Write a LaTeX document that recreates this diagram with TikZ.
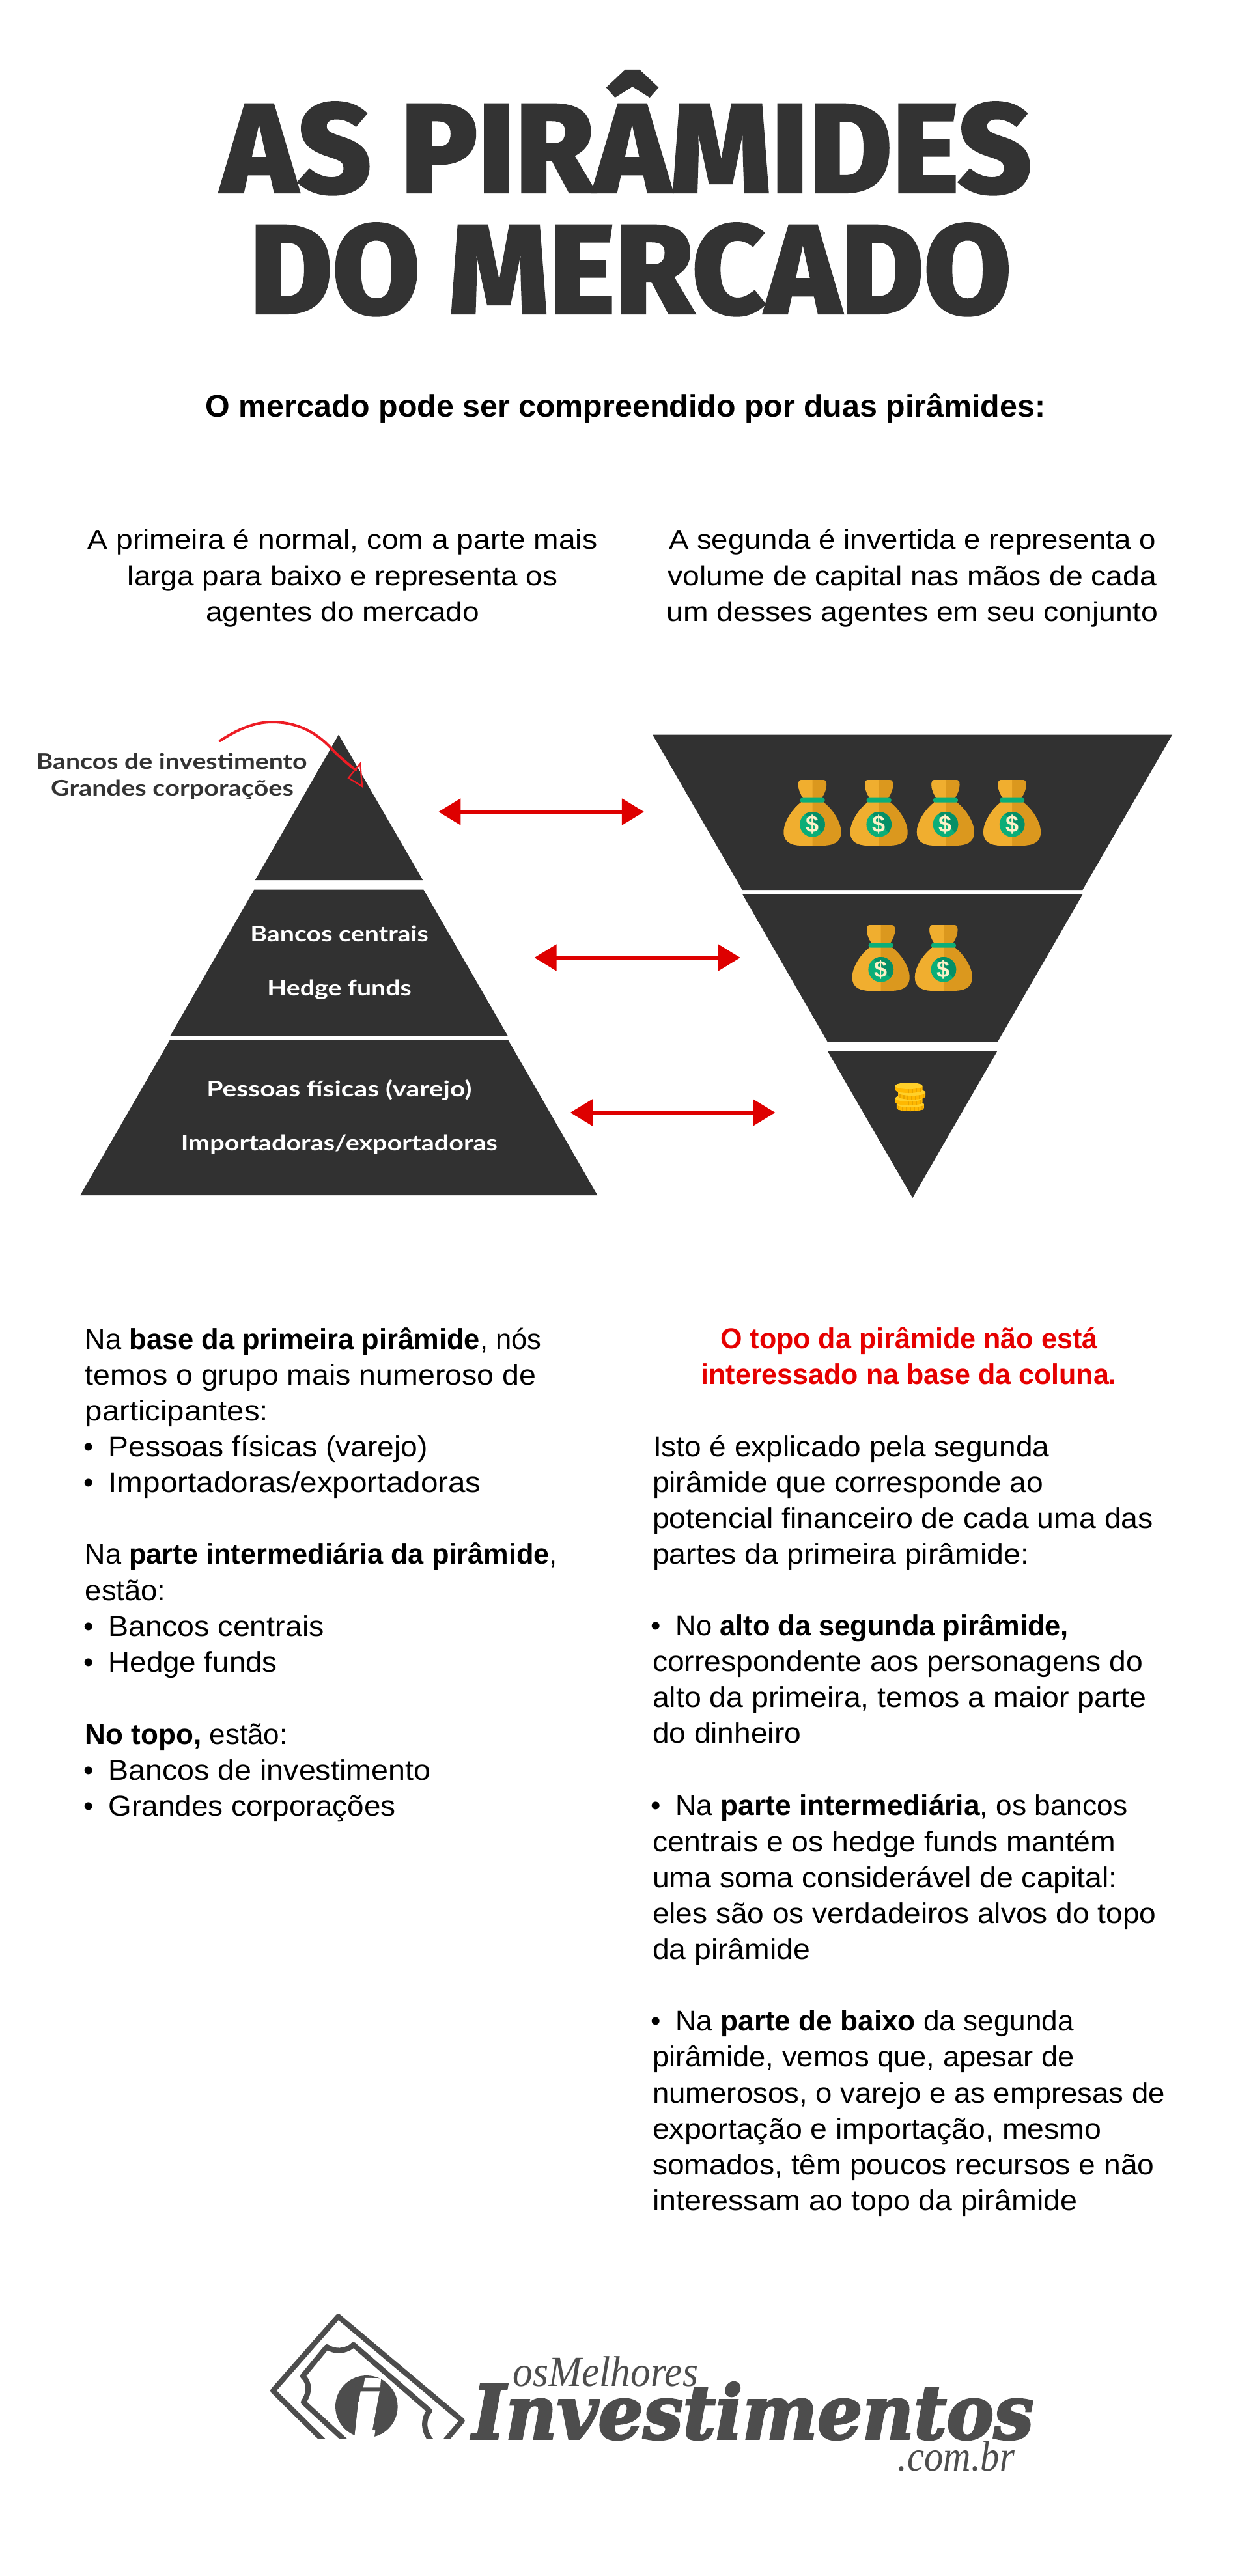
\documentclass[tikz,border=0pt]{standalone}
\usepackage{fontspec}
\usepackage{graphicx}
\usetikzlibrary{arrows.meta}
\setmainfont{Liberation Sans}
\newfontfamily\titlefont{Fira Sans ExtraBold}
\newfontfamily\lblfont{Lato}
\newfontfamily\logoA{DejaVu Serif}
\newfontfamily\logoB{Liberation Serif}
\definecolor{pyr}{HTML}{313131}
\definecolor{ink}{HTML}{333333}
\definecolor{arrowred}{HTML}{DE0000}
\definecolor{curvered}{HTML}{ED1C24}
\definecolor{headred}{HTML}{E60000}
\definecolor{baglight}{HTML}{F0AE2F}
\definecolor{bagdark}{HTML}{DB981E}
\definecolor{green1}{HTML}{0BAE78}
\definecolor{green2}{HTML}{058F66}
\definecolor{cream}{HTML}{FDF1C8}
\definecolor{coinTop}{HTML}{FFD02A}
\definecolor{coinSide}{HTML}{FFB800}
\definecolor{coinTick}{HTML}{E8A400}
\definecolor{logo}{HTML}{4D4D4D}
\newdimen\upx \upx=0.501pt
\newcount\tn
\newcommand\fitw[2]{\resizebox{#1\upx}{\height}{#2}}
\newcommand\bodyf{\fontsize{22}{26}\selectfont}
\newcommand\topf{\fontsize{21}{25}\selectfont}
\newcommand\subf{\fontsize{24}{28}\selectfont}
\newcommand\lblf{\fontsize{16.5}{20}\selectfont\lblfont\bfseries}
\newcommand\ttlf{\fontsize{98}{110}\selectfont\titlefont\addfontfeature{FakeBold=1.2}}
% x, baseline y, width, font, text
\newcommand\tl[5]{\global\advance\tn by 1\relax\node[txt,anchor=base west] (t\the\tn) at (#1,#2) {\fitw{#3}{#4#5}};}
\newcommand\tc[5]{\global\advance\tn by 1\relax\node[txt,anchor=base] (t\the\tn) at (#1,#2) {\fitw{#3}{#4#5}};}
\newcommand\bul[2]{\global\advance\tn by 1\relax\node[txt,anchor=base] (t\the\tn) at (#1,#2) {\bodyf •};}
\def\bagpath{(-50,0) -- (50,0) .. controls (60,0) and (65,8) .. (65,22) .. controls (65,45) and (55,65) .. (42,85) -- (-42,85) .. controls (-55,65) and (-65,45) .. (-65,22) .. controls (-65,8) and (-60,0) .. (-50,0) -- cycle
 (-48,100) -- (48,100) .. controls (95,135) and (132,195) .. (132,240) .. controls (132,290) and (95,303) .. (40,303) -- (-40,303) .. controls (-95,303) and (-132,290) .. (-132,240) .. controls (-132,195) and (-95,135) .. (-48,100) -- cycle}
\newcommand\moneybag[2]{\global\advance\tn by 1\relax
 \begin{scope}[shift={(#1,#2)},x=0.16667pt,y=-0.16667pt]
  \fill[bagdark] \bagpath;
  \begin{scope}\clip (-200,-10) rectangle (0,320); \fill[baglight] \bagpath; \end{scope}
  \fill[green1,rounded corners=1.5pt] (-57,83) rectangle (57,104);
  \fill[green1] (0,205) circle (58);
  \begin{scope}\clip (0,205) circle (58); \fill[green2] (-40,150) -- (45,245) -- (100,200) -- (60,100) -- cycle; \end{scope}
  \node[inner sep=0pt,text=cream,font=\fontsize{18}{20}\selectfont\bfseries] (dollar\the\tn) at (0,205) {\$};
 \end{scope}}
\newcommand\coin[2]{%
 \fill[coinSide] (#1-21,#2) -- (#1-21,#2+6) arc[start angle=180,end angle=0,x radius=21,y radius=5] -- (#1+21,#2) -- cycle;
 \foreach \k/\h in {-18/8.6,-12/10,-6/10.8,0/11,6/10.8,12/10,18/8.6}{\draw[coinTick,line width=0.8pt] (#1+\k,#2+3) -- (#1+\k,#2+\h);}
 \fill[coinTop] (#1,#2) ellipse[x radius=21,y radius=5];}
\tikzset{txt/.style={inner sep=0pt,outer sep=0pt,text=black},
 pyramid/.style={fill=pyr},
 biarrow/.style={draw=arrowred,line width=2.5pt,{Triangle[length=17pt,width=20pt]}-{Triangle[length=17pt,width=20pt]}},
 logoline/.style={draw=logo,line width=4.1pt,line join=round,line cap=butt}}
\begin{document}
\begin{tikzpicture}[x=0.501pt,y=-0.5pt]
\useasboundingbox (0,0) rectangle (1916.2,3957);
\fill[white] (0,0) rectangle (1916.2,3957);
% Title
\begin{scope}[txt/.append style={text=ink}]
\tc{960}{296}{1242}{\ttlf}{AS PIRÂMIDES}
\tc{966}{482}{1167}{\ttlf}{DO MERCADO}
\end{scope}
\tc{958.5}{640}{1287}{\subf\bfseries}{O mercado pode ser compreendido por duas pirâmides:}
\tc{525}{843}{781}{\topf}{A primeira é normal, com a parte mais}
\tc{525}{899}{659}{\topf}{larga para baixo e representa os}
\tc{525}{954}{419}{\topf}{agentes do mercado}
\tc{1398}{843}{746}{\topf}{A segunda é invertida e representa o}
\tc{1398}{899}{749}{\topf}{volume de capital nas mãos de cada}
\tc{1398}{954}{753}{\topf}{um desses agentes em seu conjunto}
% Left pyramid
\fill[pyramid] (519,1128.5) -- (648,1352) -- (391,1352) -- cycle;
\fill[pyramid] (389.5,1366.5) -- (649,1366.5) -- (778,1591) -- (261,1591) -- cycle;
\fill[pyramid] (260,1598) -- (779,1598) -- (915.5,1836) -- (123,1836) -- cycle;
% Right pyramid
\fill[pyramid] (1000,1128.5) -- (1796.5,1128.5) -- (1659,1367) -- (1137.5,1367) -- cycle;
\fill[pyramid] (1138,1374) -- (1659,1374) -- (1529,1600) -- (1268,1600) -- cycle;
\fill[pyramid] (1268.5,1615) -- (1528,1615) -- (1398.5,1840) -- cycle;
% Pyramid labels
\begin{scope}[txt/.append style={text=ink}]
\tc{263}{1181}{415}{\lblf}{Bancos de investimento}
\tc{264}{1222.5}{372}{\lblf}{Grandes corporações}
\end{scope}
\begin{scope}[txt/.append style={text=white}]
\tc{520}{1446}{273}{\lblf}{Bancos centrais}
\tc{520}{1529}{221}{\lblf}{Hedge funds}
\tc{519.7}{1684}{406}{\lblf}{Pessoas físicas (varejo)}
\tc{519.7}{1767.5}{485}{\lblf}{Importadoras/exportadoras}
\end{scope}
% Red curve
\coordinate (cs) at (337,1138);
\coordinate (ce) at (545,1183);
\draw[curvered,line width=2pt,line cap=round] (cs) .. controls (365,1120) and (390,1109) .. (417,1109) .. controls (455,1109) and (485,1125) .. (508,1150) .. controls (520,1163) and (533,1173) .. (ce);
\draw[curvered,line width=1.1pt] (552,1173) -- (534,1195) -- (555,1208) -- cycle;
% Double arrows
\coordinate (a1l) at (672,1247); \coordinate (a1r) at (987,1247);
\coordinate (a2l) at (819,1471); \coordinate (a2r) at (1134.5,1471);
\coordinate (a3l) at (874,1709); \coordinate (a3r) at (1188,1709);
\draw[biarrow] (a1l) -- (a1r);
\draw[biarrow] (a2l) -- (a2r);
\draw[biarrow] (a3l) -- (a3r);
% Money
\moneybag{1245}{1198}
\moneybag{1347}{1198}
\moneybag{1449}{1198}
\moneybag{1551}{1198}
\moneybag{1350}{1421}
\moneybag{1446}{1421}
\coin{1395}{1696}
\coin{1392.7}{1687}
\coin{1397.3}{1678}
\coin{1392.7}{1668}
% Left column
\tl{130.6}{2072}{699}{\bodyf}{Na \textbf{base da primeira pirâmide}, nós}
\tl{130.6}{2127}{691}{\bodyf}{temos o grupo mais numeroso de}
\tl{130.6}{2182}{280.6}{\bodyf}{participantes:}
\bul{135.7}{2237}
\tl{166.3}{2237}{489}{\bodyf}{Pessoas físicas (varejo)}
\bul{135.7}{2292.5}
\tl{166.3}{2292.5}{571}{\bodyf}{Importadoras/exportadoras}
\tl{130.6}{2402}{723.5}{\bodyf}{Na \textbf{parte intermediária da pirâmide},}
\tl{130.6}{2458}{123.5}{\bodyf}{estão:}
\bul{135.7}{2513}
\tl{166.3}{2513}{330.6}{\bodyf}{Bancos centrais}
\bul{135.7}{2568}
\tl{166.3}{2568}{258.7}{\bodyf}{Hedge funds}
\tl{130.6}{2679}{310}{\bodyf}{\textbf{No topo,} estão:}
\bul{135.7}{2734}
\tl{166.3}{2734}{493.4}{\bodyf}{Bancos de investimento}
\bul{135.7}{2789}
\tl{166.3}{2789}{440}{\bodyf}{Grandes corporações}
% Right column
\begin{scope}[txt/.append style={text=headred}]
\tc{1393}{2071.7}{578}{\bodyf\bfseries}{O topo da pirâmide não está}
\tc{1393}{2126.4}{637}{\bodyf\bfseries}{interessado na base da coluna.}
\end{scope}
\tl{1001}{2237}{607}{\bodyf}{Isto é explicado pela segunda}
\tl{1000}{2292}{599}{\bodyf}{pirâmide que corresponde ao}
\tl{1000}{2347}{767.4}{\bodyf}{potencial financeiro de cada uma das}
\tl{1000}{2402}{577}{\bodyf}{partes da primeira pirâmide:}
\bul{1005.5}{2512.5}
\tl{1035.7}{2512.5}{601.8}{\bodyf}{No \textbf{alto da segunda pirâmide,}}
\tl{1000}{2567.6}{751.5}{\bodyf}{correspondente aos personagens do}
\tl{1000}{2622.7}{757}{\bodyf}{alto da primeira, temos a maior parte}
\tl{1000}{2677.8}{227.6}{\bodyf}{do dinheiro}
\bul{1005.5}{2788.7}
\tl{1035.7}{2788.7}{692}{\bodyf}{Na \textbf{parte intermediária}, os bancos}
\tl{1000}{2844}{710}{\bodyf}{centrais e os hedge funds mantém}
\tl{1000}{2899.4}{712.5}{\bodyf}{uma soma considerável de capital:}
\tl{1000}{2954.5}{771.8}{\bodyf}{eles são os verdadeiros alvos do topo}
\tl{1000}{3009.6}{241.4}{\bodyf}{da pirâmide}
\bul{1005.5}{3119.8}
\tl{1035.7}{3119.8}{610}{\bodyf}{Na \textbf{parte de baixo} da segunda}
\tl{1000}{3174.8}{646.7}{\bodyf}{pirâmide, vemos que, apesar de}
\tl{1000}{3230}{785.5}{\bodyf}{numerosos, o varejo e as empresas de}
\tl{1000}{3285}{688}{\bodyf}{exportação e importação, mesmo}
\tl{1000}{3340}{769}{\bodyf}{somados, têm poucos recursos e não}
\tl{1000}{3395}{651}{\bodyf}{interessam ao topo da pirâmide}
% Logo
\begin{scope}
\clip (400,3540) rectangle (720,3745);
\draw[logoline] (496.7,3750) -- (418.3,3672.3) -- (518.3,3558.3) -- (708.3,3718.3) -- (681.7,3750);
\draw[logoline] (530,3750) -- (465,3690) .. controls (475,3675) and (475,3660) .. (464,3650) -- (501,3605) .. controls (512,3613) and (530,3613) .. (541.7,3601.7) -- (658.3,3703.3) .. controls (648,3715) and (648,3735) .. (661.7,3750);
\fill[logo] (561.7,3696.7) circle (47.7);
\fill[white] (559.3,3652.7) -- (584,3653.3) -- (582.7,3667.3) -- (556.7,3667.3) -- cycle;
\fill[white] (552.7,3673.3) -- (581.7,3673.3) -- (570.7,3732.7) -- (575.3,3733.3) -- (573.3,3746) -- (543,3746) -- (549,3690) -- (554,3690) -- (549.7,3689.3) -- cycle;
\end{scope}
\begin{scope}[txt/.append style={text=logo}]
\tl{786}{3665}{284}{\fontsize{33}{36}\selectfont\logoB\itshape}{osMelhores}
\tl{724}{3746}{860}{\fontsize{57}{60}\selectfont\logoA\bfseries\itshape\addfontfeature{FakeBold=3}}{Investimentos}
\tl{1376}{3795.7}{179}{\fontsize{33}{36}\selectfont\logoB\itshape}{.com.br}
\end{scope}
\end{tikzpicture}
\end{document}
